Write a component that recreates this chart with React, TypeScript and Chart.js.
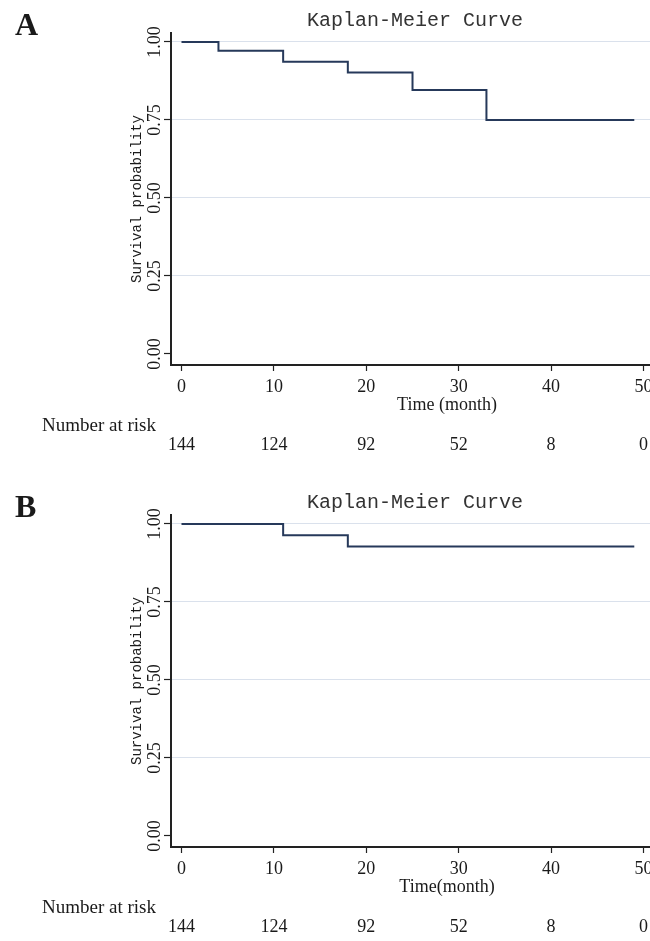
import React, { useEffect, useRef } from "react";
import { Chart, registerables } from "chart.js";

Chart.register(...registerables);

const X_TICKS = [0, 10, 20, 30, 40, 50];
const X_TICK_LABELS = ["0", "10", "20", "30", "40", "50"];
const Y_TICKS = [0, 0.25, 0.5, 0.75, 1];
const Y_TICK_LABELS = ["0.00", "0.25", "0.50", "0.75", "1.00"];
const RISK_TIMES = [0, 10, 20, 30, 40, 50];

const A_TIMES = [0, 4, 11, 18, 25, 33, 49];
const A_SURVIVAL = [1, 0.972, 0.937, 0.902, 0.846, 0.75, 0.75];
const A_AT_RISK = ["144", "124", "92", "52", "8", "0"];

const B_TIMES = [0, 11, 18, 49];
const B_SURVIVAL = [1, 0.964, 0.928, 0.928];
const B_AT_RISK = ["144", "124", "92", "52", "8", "0"];

const TITLE = "Kaplan-Meier Curve";
const Y_TITLE = "Survival probability";

const LINE_COLOR = "#26395a";
const AXIS_COLOR = "#222222";
const GRID_COLOR = "#dae1ec";
const TEXT_COLOR = "#1a1a1a";

type PanelProps = {
  letter: string;
  times: number[];
  survival: number[];
  atRisk: string[];
  xTitle: string;
  top: number;
  height: number;
};

function Panel({ letter, times, survival, atRisk, xTitle, top, height }: PanelProps) {
  const ref = useRef<HTMLCanvasElement | null>(null);

  useEffect(() => {
    if (!ref.current) return;
    const textPlugin = {
      id: "kmText",
      afterDraw(chart: any) {
        const { ctx, chartArea: a, scales } = chart;
        const xs = scales.x;
        const ys = scales.y;
        ctx.save();
        ctx.fillStyle = TEXT_COLOR;

        // panel letter
        ctx.font = 'bold 32px "Liberation Serif"';
        ctx.textAlign = "left";
        ctx.textBaseline = "alphabetic";
        ctx.fillText(letter, 15, a.top + 2);

        // title
        ctx.fillStyle = "#333333";
        ctx.font = '20px "Liberation Mono"';
        ctx.textAlign = "center";
        ctx.fillText(TITLE, 415, a.top - 7);
        ctx.fillStyle = TEXT_COLOR;

        // y tick labels (rotated)
        ctx.font = '18px "Liberation Serif"';
        Y_TICKS.forEach((v, i) => {
          const py = ys.getPixelForValue(v);
          ctx.save();
          ctx.translate(a.left - 11, py);
          ctx.rotate(-Math.PI / 2);
          ctx.textAlign = "center";
          ctx.fillText(Y_TICK_LABELS[i], 0, 0);
          ctx.restore();
        });

        // y title
        ctx.save();
        ctx.font = '14px "Liberation Mono"';
        ctx.translate(a.left - 30, (a.top + a.bottom) / 2);
        ctx.rotate(-Math.PI / 2);
        ctx.textAlign = "center";
        ctx.fillText(Y_TITLE, 0, 0);
        ctx.restore();

        // x tick labels
        ctx.font = '18px "Liberation Serif"';
        ctx.textAlign = "center";
        X_TICKS.forEach((v, i) => {
          ctx.fillText(X_TICK_LABELS[i], xs.getPixelForValue(v), a.bottom + 27);
        });

        // x title
        ctx.font = '18px "Liberation Serif"';
        ctx.fillText(xTitle, 447, a.bottom + 45);

        // number at risk
        ctx.font = '19px "Liberation Serif"';
        ctx.textAlign = "left";
        ctx.fillText("Number at risk", 42, a.bottom + 66);
        ctx.font = '18px "Liberation Serif"';
        ctx.textAlign = "center";
        RISK_TIMES.forEach((t, i) => {
          ctx.fillText(atRisk[i], xs.getPixelForValue(t), a.bottom + 85);
        });
        ctx.restore();
      },
    };

    const chart = new Chart(ref.current, {
      type: "line",
      data: {
        datasets: [
          {
            data: times.map((t, i) => ({ x: t, y: survival[i] })),
            borderColor: LINE_COLOR,
            borderWidth: 2,
            pointRadius: 0,
            stepped: "before",
            fill: false,
          },
        ],
      },
      options: {
        animation: false,
        responsive: false,
        maintainAspectRatio: false,
        layout: { padding: { top: 33, left: 0, right: 0, bottom: 0 } },
        plugins: {
          legend: { display: false },
          tooltip: { enabled: false },
          title: { display: false },
        },
        scales: {
          x: {
            type: "linear",
            min: -1.136,
            max: 50.7,
            afterBuildTicks: (s: any) => {
              s.ticks = X_TICKS.map((v) => ({ value: v }));
            },
            afterFit: (s: any) => {
              s.height = height - 365;
              s.paddingLeft = 0;
              s.paddingRight = 0;
            },
            ticks: { display: false },
            grid: {
              display: true,
              drawOnChartArea: false,
              drawTicks: true,
              tickLength: 6,
              tickColor: AXIS_COLOR,
              tickWidth: 1.2,
            },
            border: { display: true, color: AXIS_COLOR, width: 2 },
          },
          y: {
            type: "linear",
            min: -0.0353,
            max: 1.0288,
            afterBuildTicks: (s: any) => {
              s.ticks = Y_TICKS.map((v) => ({ value: v }));
            },
            afterFit: (s: any) => {
              s.width = 171;
              s.paddingTop = 0;
              s.paddingBottom = 0;
            },
            ticks: { display: false },
            grid: {
              display: true,
              drawOnChartArea: true,
              drawTicks: true,
              tickLength: 7,
              color: (c: any) => (c.tick && c.tick.value === 0 ? "rgba(0,0,0,0)" : GRID_COLOR),
              tickColor: AXIS_COLOR,
              tickWidth: 1.2,
              lineWidth: 1,
            },
            border: { display: true, color: AXIS_COLOR, width: 2 },
          },
        },
      },
      plugins: [textPlugin],
    } as any);
    return () => chart.destroy();
  }, [letter, times, survival, atRisk, xTitle, height]);

  return (
    <canvas
      ref={ref}
      width={650}
      height={height}
      style={{ position: "absolute", left: 0, top, width: 650, height }}
    />
  );
}

export default function App() {
  return (
    <div style={{ position: "absolute", left: 0, top: 0, width: 650, height: 941, background: "#ffffff" }}>
      <Panel letter="A" times={A_TIMES} survival={A_SURVIVAL} atRisk={A_AT_RISK} xTitle="Time (month)" top={0} height={482} />
      <Panel letter="B" times={B_TIMES} survival={B_SURVIVAL} atRisk={B_AT_RISK} xTitle="Time(month)" top={482} height={459} />
    </div>
  );
}
